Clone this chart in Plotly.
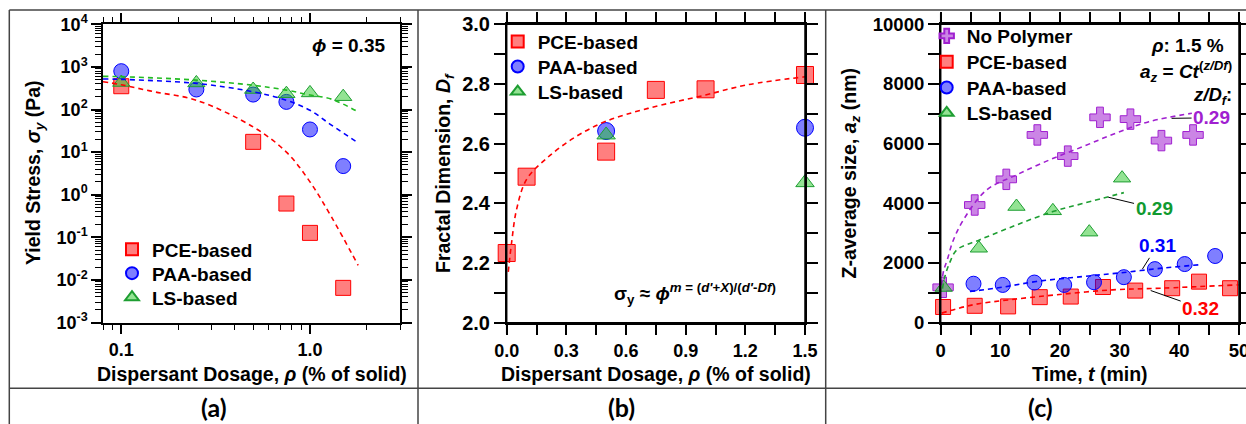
import plotly.graph_objects as go

W, H = 1246, 424

# ---------------- data: panel (a) yield stress vs dosage ----------------
a_dose_pce = [0.1, 0.5, 0.75, 1.0, 1.5]
a_ys_pce = [352, 17.4, 0.62, 0.127, 0.0065]
a_dose_paa = [0.1, 0.25, 0.5, 0.75, 1.0, 1.5]
a_ys_paa = [794, 295, 224, 151, 34, 4.7]
a_dose_ls = [0.1, 0.25, 0.5, 0.75, 1.0, 1.5]
a_ys_ls = [430, 420, 295, 235, 245, 200]

a_fit_pce_x = [0.08, 0.1, 0.15, 0.25, 0.5, 0.75, 1.0, 1.3, 1.8]
a_fit_pce_y = [450, 380, 260, 165, 39, 10, 2.0, 0.3, 0.022]
a_fit_paa_x = [0.08, 0.1, 0.25, 0.5, 0.75, 1.0, 1.3, 1.8]
a_fit_paa_y = [520, 510, 410, 260, 165, 96, 43, 16.5]
a_fit_ls_x = [0.08, 0.1, 0.25, 0.5, 0.75, 1.0, 1.3, 1.8]
a_fit_ls_y = [600, 590, 490, 370, 285, 218, 175, 88]

a_ytick_vals = [1e-3, 1e-2, 1e-1, 1e0, 1e1, 1e2, 1e3, 1e4]
a_ytick_text = ["10<sup>-3</sup>", "10<sup>-2</sup>", "10<sup>-1</sup>", "10<sup>0</sup>",
                "10<sup>1</sup>", "10<sup>2</sup>", "10<sup>3</sup>", "10<sup>4</sup>"]
a_xtick_vals = [0.1, 1.0]
a_xtick_text = ["0.1", "1.0"]
a_xminor_vals = [0.08, 0.09, 0.2, 0.3, 0.4, 0.5, 0.6, 0.7, 0.8, 0.9, 2, 3]
a_yminor_vals = [k * 10.0 ** e for e in range(-3, 4) for k in range(2, 10)]

# ---------------- data: panel (b) fractal dimension vs dosage ----------------
b_dose_pce = [0.0, 0.1, 0.5, 0.75, 1.0, 1.5]
b_df_pce = [2.233, 2.489, 2.573, 2.78, 2.782, 2.83]
b_dose_paa = [0.5, 1.5]
b_df_paa = [2.642, 2.653]
b_dose_ls = [0.5, 1.5]
b_df_ls = [2.629, 2.469]

b_fit_x = [0.008, 0.025, 0.05, 0.1, 0.2, 0.34, 0.5, 0.71, 1.0, 1.21, 1.5]
b_fit_y = [2.17, 2.27, 2.38, 2.48, 2.55, 2.62, 2.675, 2.718, 2.763, 2.797, 2.824]

# ---------------- data: panel (c) Z-average size vs time ----------------
c_t_np = [0.4, 5.7, 11.0, 16.2, 21.3, 26.7, 31.8, 37.0, 42.3]
c_az_np = [1180, 3940, 4800, 6290, 5580, 6880, 6820, 6100, 6290]
c_t_pce = [0.4, 5.7, 11.3, 16.6, 21.8, 27.2, 32.6, 38.8, 43.3, 48.5]
c_az_pce = [520, 560, 540, 850, 870, 1190, 1070, 1150, 1370, 1150]
c_t_paa = [5.5, 10.4, 15.7, 20.7, 25.7, 30.7, 35.9, 40.9, 46.0]
c_az_paa = [1300, 1260, 1340, 1260, 1350, 1520, 1790, 1960, 2230]
c_t_ls = [0.5, 6.4, 12.7, 18.8, 24.9, 30.4]
c_az_ls = [1173, 2490, 3890, 3745, 3030, 4840]

c_fit_np_t = [0.15, 0.5, 1.1, 2.0, 3.8, 7.7, 12.7, 18.2, 23.8, 29.3, 34.9, 42.1]
c_fit_np_a = [1250, 1750, 2100, 2700, 3440, 4445, 4948, 5450, 5896, 6345, 6734, 7015]
c_fit_ls_t = [0.3, 0.7, 1.5, 2.7, 6.5, 12.7, 18.8, 24.0, 30.7]
c_fit_ls_a = [1140, 1540, 2000, 2435, 2770, 3270, 3720, 4000, 4355]
c_fit_paa_t = [4.9, 10.4, 16.0, 23.8, 29.9, 37.1, 43.2]
c_fit_paa_a = [1040, 1186, 1374, 1540, 1660, 1822, 1933]
c_fit_pce_t = [0.17, 5.4, 11.5, 19.3, 28.8, 37.1, 49.9]
c_fit_pce_a = [315, 593, 760, 928, 1095, 1152, 1263]

c_exp_labels = ["0.29", "0.29", "0.31", "0.32"]
c_exp_at_t = [38.7, 28.1, 33.8, 35.2]
c_exp_at_a = [6847, 4201, 1789, 1072]

# ---------------- styles ----------------
RED, BLUE, GREEN, PURPLE = "#ff0000", "#0000ff", "#1e9e32", "#a020d0"
RED_F, BLUE_F, GREEN_F, PURPLE_F = ("rgba(255,0,0,0.5)", "rgba(0,0,255,0.5)",
                                    "rgba(40,200,40,0.5)", "rgba(160,32,208,0.55)")
FONT = "Liberation Sans, Arial, sans-serif"


def px(x):
    return x / W


def py(y):
    return 1 - y / H


fig = go.Figure()

legend_boxes = {}


def marker_trace(x, y, name, sym, fill, edge, size, xa, ya, leg, leg_x, leg_y):
    legend_boxes[leg] = (leg_x, leg_y)
    return go.Scatter(x=x, y=y, mode="markers", name=name, xaxis=xa, yaxis=ya,
                      legend=leg, cliponaxis=False,
                      marker=dict(symbol=sym, size=size, color=fill,
                                  line=dict(color=edge, width=1)))


def fit_trace(x, y, color, xa, ya):
    return go.Scatter(x=x, y=y, mode="lines", showlegend=False, xaxis=xa, yaxis=ya,
                      line=dict(color=color, width=1.6, dash="5px,4px", shape="spline",
                                smoothing=1.0), hoverinfo="skip")


# panel (a)
fig.add_trace(marker_trace(a_dose_pce, a_ys_pce, "PCE-based", "square", RED_F, RED, 15, "x", "y", "legend", 112, 249.3))
fig.add_trace(marker_trace(a_dose_paa, a_ys_paa, "PAA-based", "circle", BLUE_F, BLUE, 15, "x", "y", "legend2", 112, 273.3))
fig.add_trace(marker_trace(a_dose_ls, a_ys_ls, "LS-based", "triangle-up", GREEN_F, GREEN, 15, "x", "y", "legend3", 112, 297.3))
fig.add_trace(fit_trace(a_fit_pce_x, a_fit_pce_y, RED, "x", "y"))
fig.add_trace(fit_trace(a_fit_paa_x, a_fit_paa_y, BLUE, "x", "y"))
fig.add_trace(fit_trace(a_fit_ls_x, a_fit_ls_y, "#22bb22", "x", "y"))

# panel (b)
fig.add_trace(marker_trace(b_dose_pce, b_df_pce, "PCE-based", "square", RED_F, RED, 17, "x2", "y2", "legend4", 497.7, 41.7))
fig.add_trace(marker_trace(b_dose_paa, b_df_paa, "PAA-based", "circle", BLUE_F, BLUE, 17, "x2", "y2", "legend5", 497.7, 66.7))
fig.add_trace(marker_trace(b_dose_ls, b_df_ls, "LS-based", "triangle-up", GREEN_F, GREEN, 16, "x2", "y2", "legend6", 497.7, 91.7))
fig.add_trace(fit_trace(b_fit_x, b_fit_y, RED, "x2", "y2"))

# panel (c)
fig.add_trace(marker_trace(c_t_np, c_az_np, "No Polymer", "cross", PURPLE_F, PURPLE, 17, "x3", "y3", "legend7", 926.7, 36))
fig.add_trace(marker_trace(c_t_pce, c_az_pce, "PCE-based", "square", RED_F, RED, 15, "x3", "y3", "legend8", 926.7, 62))
fig.add_trace(marker_trace(c_t_paa, c_az_paa, "PAA-based", "circle", BLUE_F, BLUE, 15, "x3", "y3", "legend9", 926.7, 87.7))
fig.add_trace(marker_trace(c_t_ls, c_az_ls, "LS-based", "triangle-up", GREEN_F, GREEN, 15, "x3", "y3", "legend10", 926.7, 113))
fig.add_trace(fit_trace(c_fit_np_t, c_fit_np_a, PURPLE, "x3", "y3"))
fig.add_trace(fit_trace(c_fit_ls_t, c_fit_ls_a, GREEN, "x3", "y3"))
fig.add_trace(fit_trace(c_fit_paa_t, c_fit_paa_a, BLUE, "x3", "y3"))
fig.add_trace(fit_trace(c_fit_pce_t, c_fit_pce_a, RED, "x3", "y3"))


def tfont(size):
    return dict(family=FONT, size=size, color="black", weight="bold")


common = dict(ticks="outside", showline=True, linecolor="black", linewidth=1.5,
              tickcolor="black", tickwidth=1.5, mirror="ticks", showgrid=False,
              zeroline=False, automargin=False, ticklabeloverflow="allow")

dom_a = [px(103), px(400)]
dom_b = [px(506.7), px(805)]
dom_c = [px(940.7), px(1239)]
dom_y = [py(322.5), py(24.3)]

fig.update_layout(
    width=W, height=H, margin=dict(l=0, r=0, t=0, b=0, pad=0, autoexpand=False),
    paper_bgcolor="white", plot_bgcolor="white",
    font=dict(family=FONT, size=19, color="black", weight="bold"),
    xaxis=dict(type="log", domain=dom_a, anchor="y", range=[-1.0969, 0.4771],
               tickvals=a_xtick_vals, ticktext=a_xtick_text, ticklen=10, tickfont=tfont(18),
               minor=dict(tickvals=a_xminor_vals, ticks="outside", ticklen=6,
                          tickcolor="black", tickwidth=1.2, showgrid=False), **common),
    yaxis=dict(type="log", domain=dom_y, anchor="x", range=[-3, 4],
               tickvals=a_ytick_vals, ticktext=a_ytick_text, ticklen=10, tickfont=tfont(18),
               minor=dict(tickvals=a_yminor_vals, ticks="outside", ticklen=6,
                          tickcolor="black", tickwidth=1.0, showgrid=False), **common),
    xaxis2=dict(domain=dom_b, anchor="y2", range=[0, 1.5], tick0=0, dtick=0.3,
                tickformat=".1f", ticklen=11, tickfont=tfont(18),
                minor=dict(dtick=0.15, tick0=0, ticks="outside", ticklen=11,
                           tickcolor="black", tickwidth=1.5, showgrid=False), **common),
    yaxis2=dict(domain=dom_y, anchor="x2", range=[2.0, 3.0], tick0=2.0, dtick=0.2,
                tickformat=".1f", ticklen=11, tickfont=tfont(20),
                minor=dict(dtick=0.1, tick0=2.0, ticks="outside", ticklen=11,
                           tickcolor="black", tickwidth=1.5, showgrid=False), **common),
    xaxis3=dict(domain=dom_c, anchor="y3", range=[0, 50], tick0=0, dtick=10,
                tickformat="d", ticklen=11, tickfont=tfont(18.5),
                minor=dict(dtick=5, tick0=0, ticks="outside", ticklen=11,
                           tickcolor="black", tickwidth=1.5, showgrid=False), **common),
    yaxis3=dict(domain=dom_y, anchor="x3", range=[0, 10000], tick0=0, dtick=2000,
                tickformat="d", ticklen=11, tickfont=tfont(18.5),
                minor=dict(dtick=1000, tick0=0, ticks="outside", ticklen=11,
                           tickcolor="black", tickwidth=1.5, showgrid=False), **common),
    showlegend=True,
)

for leg, (lx, ly) in legend_boxes.items():
    fig.update_layout({leg: dict(x=px(lx), y=py(ly), xanchor="left", yanchor="middle",
                                 bgcolor="rgba(0,0,0,0)", itemsizing="constant",
                                 font=tfont(19))})

# table grid lines
GRID = "#444444"
shapes = [
    dict(x0=px(9.3), x1=px(W), y0=py(10), y1=py(10)),
    dict(x0=px(9.3), x1=px(W), y0=py(388.3), y1=py(388.3)),
    dict(x0=px(9.3), x1=px(9.3), y0=py(10), y1=0),
    dict(x0=px(418), x1=px(418), y0=py(10), y1=0),
    dict(x0=px(825.7), x1=px(825.7), y0=py(10), y1=0),
]
for s in shapes:
    s.update(type="line", xref="paper", yref="paper", line=dict(color=GRID, width=1.5))
# extended frame lines for panels (b) and (c)
for (xl, xr) in [(506.7, 805), (940.7, 1239)]:
    for yy in (24.3, 322.7):
        shapes.append(dict(type="line", xref="paper", yref="paper", x0=px(xl - 12), x1=px(xr + 12),
                           y0=py(yy), y1=py(yy), line=dict(color="black", width=1.5)))
    for xx in (xl, xr):
        shapes.append(dict(type="line", xref="paper", yref="paper", x0=px(xx), x1=px(xx),
                           y0=py(24.3 - 11), y1=py(322.7 + 11), line=dict(color="black", width=1.5)))
fig.update_layout(shapes=shapes)

ann = []


def text(xp, yp, s, size=19, color="black", xanchor="center", angle=0, family=FONT):
    ann.append(dict(x=px(xp), y=py(yp), xref="paper", yref="paper", text=s, showarrow=False,
                    xanchor=xanchor, yanchor="middle", textangle=angle,
                    font=dict(family=family, size=size, color=color, weight="bold")))


# axis titles
text(35, 173, "Yield Stress, <i>σ<sub>y</sub></i> (Pa)", angle=-90, size=19.5)
text(444.5, 173.5, "Fractal Dimension, <i>D<sub>f</sub></i>", angle=-90, size=19.5)
text(850, 173.5, "Z-average size, <i>a<sub>z</sub></i> (nm)", angle=-90, size=19.5)
text(251.7, 374, "Dispersant Dosage, <i>ρ</i> (% of solid)", size=19.5)
text(655.7, 374, "Dispersant Dosage, <i>ρ</i> (% of solid)", size=19.5)
text(1090, 374, "Time, <i>t</i> (min)", size=19.5)

# panel labels
text(214, 407, "(a)", size=25, family="Lato, Open Sans, sans-serif")
text(621.7, 407, "(b)", size=25, family="Lato, Open Sans, sans-serif")
text(1040, 407, "(c)", size=25, family="Lato, Open Sans, sans-serif")

# in-plot notes
text(386.7, 45, "<i>ϕ</i> = 0.35", xanchor="right")
text(778, 293, "σ<sub>y</sub> ≈ <i>ϕ</i><sup><i>m</i> = (<i>d'</i>+<i>X</i>)/(<i>d'</i>-<i>Df</i>)</sup>",
     xanchor="right")
text(1226, 45, "<i>ρ</i>: 1.5 %", xanchor="right")
text(1234, 71, "<i>a<sub>z</sub></i> = <i>Ct</i><sup>(<i>z/Df</i>)</sup>", xanchor="right")
text(1234, 95.5, "<i>z/D<sub>f</sub></i>:", xanchor="right", size=18.5)

fig.update_layout(annotations=ann)

# exponent labels with leader lines (panel c)
label_offsets = [(40, -0.5), (45.7, 11), (14.7, -23.3), (50, 17.6)]
label_colors = [PURPLE, "#109a30", BLUE, RED]
for lab, t, a, (dx, dy), col in zip(c_exp_labels, c_exp_at_t, c_exp_at_a, label_offsets, label_colors):
    fig.add_annotation(x=t, y=a, xref="x3", yref="y3", text=lab, showarrow=True,
                       arrowhead=0, arrowwidth=1, arrowcolor="black", ax=dx, ay=dy,
                       font=dict(family=FONT, size=19, color=col, weight="bold"))

fig.write_html("out.html")
